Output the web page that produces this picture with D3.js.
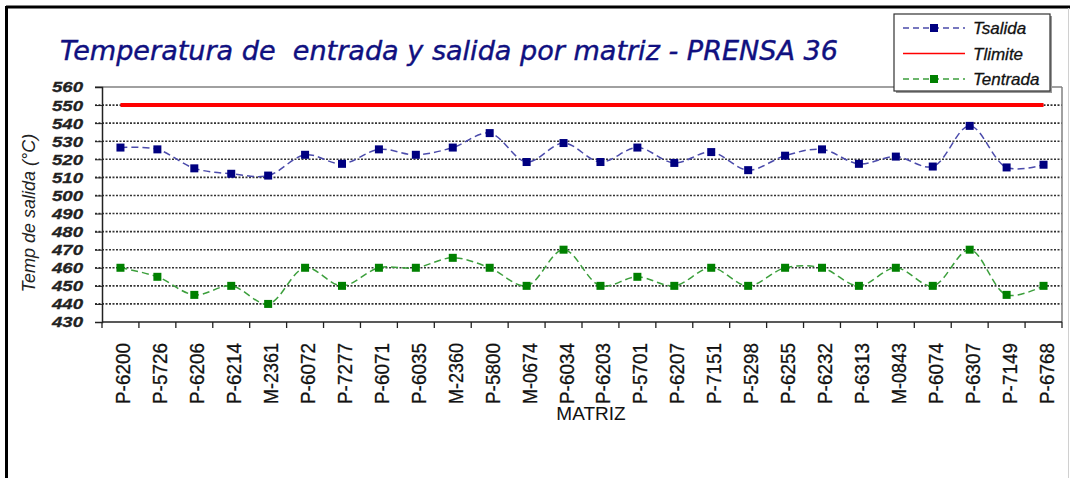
<!DOCTYPE html>
<html lang="es">
<head>
<meta charset="UTF-8">
<title>Temperatura PRENSA 36</title>
<style>
  body { margin: 0; background: #fff; }
  svg { display: block; }
</style>
</head>
<body>
<script src="https://cdn.jsdelivr.net/npm/d3@7/dist/d3.min.js"></script>
<script>
// matrices (eje X)
const matrices = ["P-6200","P-5726","P-6206","P-6214","M-2361","P-6072","P-7277","P-6071","P-6035","M-2360",
  "P-5800","M-0674","P-6034","P-6203","P-5701","P-6207","P-7151","P-5298","P-6255","P-6232",
  "P-6313","M-0843","P-6074","P-6307","P-7149","P-6768"]
// temperatura de salida
const tSalida = [526.5,525.5,515,512,511,522.5,517.5,525.5,522.5,526.5,
  534.5,518.5,529,518.5,526.5,518,524,514,522,525.5,
  517.5,521.5,516,538.5,515.5,517]
// temperatura de entrada
const tEntrada = [460,455,445,450,440,460,450,460,460,465.5,
  460,450,470,450,455,450,460,450,460,460,
  450,460,450,470,445,450]
const tLimite = 550
const yTicks = d3.range(430, 561, 10)

const width = 1070, height = 478
const pLeft = 102, pRight = 1062, pTop = 87, pBottom = 322

const svg = d3.select("body").append("svg")
  .attr("width", width)
  .attr("height", height)

// marco exterior
svg.append("line").attr("x1",6).attr("y1",7).attr("x2",1070).attr("y2",7)
  .attr("stroke","#000").attr("stroke-width",3)
svg.append("line").attr("x1",6.5).attr("y1",6).attr("x2",6.5).attr("y2",478)
  .attr("stroke","#000").attr("stroke-width",3)
svg.append("line").attr("x1",1068.5).attr("y1",8).attr("x2",1068.5).attr("y2",478)
  .attr("stroke","#d0d0d0").attr("stroke-width",1)

const x = d3.scaleBand().domain(matrices).range([pLeft, pRight])
const cx = d => x(d) + x.bandwidth() / 2
const y = d3.scaleLinear().domain([430, 560]).range([pBottom, pTop])

// titulo
svg.append("text")
  .attr("x", 60).attr("y", 60)
  .attr("font-family", "DejaVu Sans")
  .attr("font-style", "italic")
  .attr("font-size", 26)
  .attr("fill", "#101080")
  .attr("stroke", "#101080")
  .attr("stroke-width", 0.4)
  .attr("textLength", 778)
  .attr("lengthAdjust", "spacingAndGlyphs")
  .style("white-space", "pre")
  .text("Temperatura de  entrada y salida por matriz - PRENSA 36")

// lineas de la cuadricula
svg.append("g").selectAll("line")
  .data(yTicks.filter(v => v > 430 && v < 560))
  .enter().append("line")
  .attr("x1", pLeft - 7).attr("x2", pRight)
  .attr("y1", d => y(d)).attr("y2", d => y(d))
  .attr("stroke", "#333")
  .attr("stroke-width", 1.6)
  .attr("stroke-dasharray", "2,1.5")

// borde del area de trazado
svg.append("line").attr("x1", pLeft - 7).attr("x2", pRight)
  .attr("y1", y(560)).attr("y2", y(560)).attr("stroke", "#808080").attr("stroke-width", 1.5)
svg.append("line").attr("x1", pRight).attr("x2", pRight)
  .attr("y1", y(560)).attr("y2", pBottom).attr("stroke", "#808080").attr("stroke-width", 1.5)

// eje Y
const yAxis = svg.append("g")
  .attr("transform", "translate(" + pLeft + ",0)")
  .call(d3.axisLeft(y).tickValues(yTicks).tickSize(7).tickPadding(12).tickFormat(d3.format("d")))
yAxis.select(".domain").attr("stroke", "#222").attr("stroke-width", 1.5)
yAxis.selectAll(".tick line").attr("stroke", "#222")
yAxis.selectAll(".tick text")
  .attr("font-family", "Liberation Sans")
  .attr("font-size", 15.5)
  .attr("font-style", "italic")
  .attr("font-weight", "bold")
  .attr("fill", "#222")
  .attr("stroke", "#222")
  .attr("stroke-width", 0.3)
  .attr("textLength", 31)
  .attr("lengthAdjust", "spacingAndGlyphs")
  .attr("x", -19)

// eje X
svg.append("line").attr("x1", pLeft).attr("x2", pRight)
  .attr("y1", pBottom).attr("y2", pBottom).attr("stroke", "#222").attr("stroke-width", 1.5)
svg.append("g").selectAll("line")
  .data(matrices.map(d => x(d)).concat([pRight]))
  .enter().append("line")
  .attr("x1", d => d).attr("x2", d => d)
  .attr("y1", pBottom).attr("y2", pBottom + 6)
  .attr("stroke", "#222").attr("stroke-width", 1.3)

svg.append("g").selectAll("text")
  .data(matrices)
  .enter().append("text")
  .attr("transform", d => "translate(" + (cx(d) + 10) + "," + 343 + ") rotate(-90)")
  .attr("text-anchor", "end")
  .attr("font-family", "Liberation Sans")
  .attr("font-size", 21)
  .attr("fill", "#111")
  .attr("stroke", "#111")
  .attr("stroke-width", 0.3)
  .attr("textLength", 61)
  .attr("lengthAdjust", "spacingAndGlyphs")
  .text(d => d)

svg.append("text")
  .attr("x", 591).attr("y", 420)
  .attr("text-anchor", "middle")
  .attr("font-family", "Liberation Sans")
  .attr("font-size", 19)
  .attr("fill", "#111")
  .text("MATRIZ")

svg.append("text")
  .attr("transform", "translate(35,213) rotate(-90)")
  .attr("text-anchor", "middle")
  .attr("font-family", "Liberation Sans")
  .attr("font-size", 18)
  .attr("font-style", "italic")
  .attr("fill", "#222")
  .text("Temp de salida (°C)")

// linea limite
svg.append("line")
  .attr("x1", cx(matrices[0])).attr("x2", cx(matrices[matrices.length - 1]))
  .attr("y1", y(tLimite)).attr("y2", y(tLimite))
  .attr("stroke", "#ff0000").attr("stroke-width", 4)

const line = d3.line()
  .x((d, i) => cx(matrices[i]))
  .y(d => y(d))
  .curve(d3.curveCatmullRom.alpha(0.5))

const series = [
  { name: "Tsalida", values: tSalida, line: "#4b4bab", mark: "#000080" },
  { name: "Tentrada", values: tEntrada, line: "#3c9f3c", mark: "#008000" }
]

series.forEach(s => {
  svg.append("path")
    .datum(s.values)
    .attr("d", line)
    .attr("fill", "none")
    .attr("stroke", s.line)
    .attr("stroke-width", 1.5)
    .attr("stroke-dasharray", "7,4")
  svg.append("g").selectAll("rect")
    .data(s.values)
    .enter().append("rect")
    .attr("x", (d, i) => cx(matrices[i]) - 4)
    .attr("y", d => y(d) - 4)
    .attr("width", 8).attr("height", 8)
    .attr("fill", s.mark)
})

// leyenda
const lg = svg.append("g")
lg.append("rect").attr("x", 896).attr("y", 16).attr("width", 156).attr("height", 77).attr("fill", "#999")
lg.append("rect").attr("x", 894).attr("y", 14).attr("width", 156).attr("height", 77)
  .attr("fill", "#fff").attr("stroke", "#333").attr("stroke-width", 1.2)
const items = [
  { name: "Tsalida", line: "#4b4bab", mark: "#000080", dash: "6,4", w: 1.5 },
  { name: "Tlimite", line: "#ff0000", mark: null, dash: null, w: 1.5 },
  { name: "Tentrada", line: "#3c9f3c", mark: "#008000", dash: "6,4", w: 1.5 }
]
items.forEach((it, i) => {
  const yy = 28 + i * 25.5
  lg.append("line").attr("x1", 903).attr("x2", 965).attr("y1", yy).attr("y2", yy)
    .attr("stroke", it.line).attr("stroke-width", it.w)
    .attr("stroke-dasharray", it.dash)
  if (it.mark) lg.append("rect").attr("x", 930).attr("y", yy - 4).attr("width", 8).attr("height", 8).attr("fill", it.mark)
  lg.append("text").attr("x", 973).attr("y", yy + 6)
    .attr("font-family", "Liberation Sans")
    .attr("font-style", "italic")
    .attr("font-size", 17)
    .attr("fill", "#111")
    .attr("stroke", "#111")
    .attr("stroke-width", 0.3)
    .text(it.name)
})
</script>
</body>
</html>
